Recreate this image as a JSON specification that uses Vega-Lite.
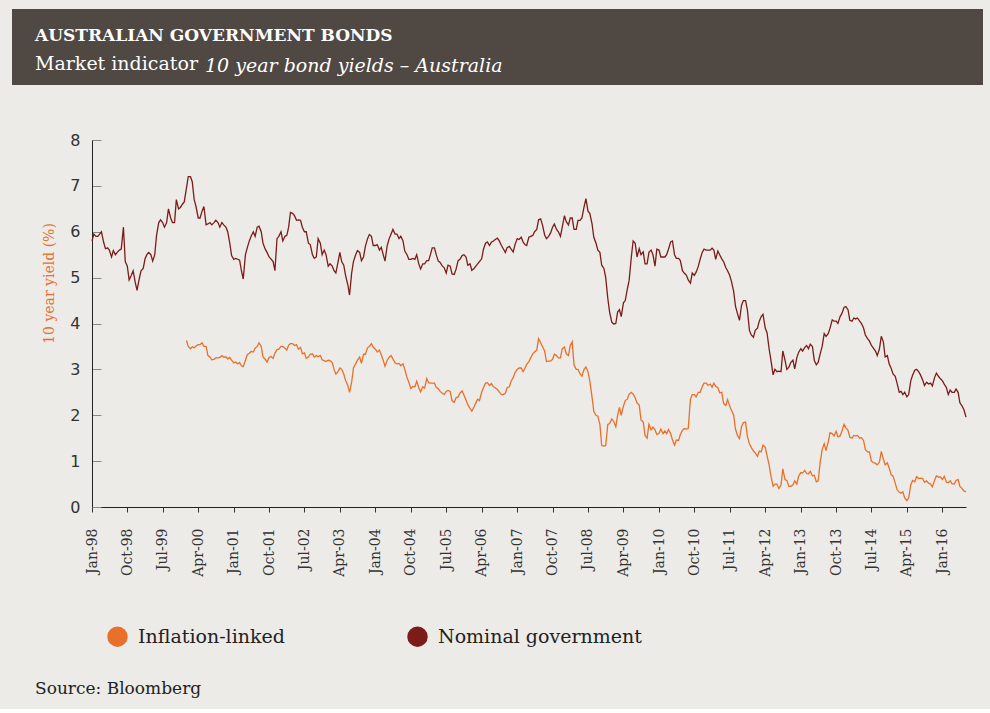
{
  "$schema": "https://vega.github.io/schema/vega-lite/v6.json",
  "background": "#ecebe8",
  "padding": {"left": 12, "top": 9, "right": 7, "bottom": 12},
  "spacing": 55,
  "bounds": "flush",
  "title": {
    "text": "Source: Bloomberg",
    "orient": "bottom",
    "anchor": "start",
    "frame": "bounds",
    "font": "DejaVu Serif",
    "fontSize": 17,
    "fontWeight": "normal",
    "color": "#222222",
    "dx": 23,
    "offset": 34
  },
  "config": {
    "view": {"stroke": null},
    "axis": {"grid": false},
    "font": "DejaVu Serif"
  },
  "vconcat": [
    {
      "width": 971,
      "height": 76,
      "view": {"fill": "#4f4843", "stroke": null},
      "title": {
        "text": "AUSTRALIAN GOVERNMENT BONDS",
        "subtitle": "Market indicator",
        "anchor": "start",
        "frame": "group",
        "dx": 23,
        "offset": -66,
        "font": "DejaVu Serif",
        "fontSize": 17,
        "fontWeight": "bold",
        "color": "#ffffff",
        "subtitleFont": "DejaVu Serif",
        "subtitleFontSize": 19,
        "subtitleColor": "#ffffff",
        "subtitlePadding": 10
      },
      "data": {"values": []},
      "mark": "rect",
      "encoding": {}
    },
    {
      "spacing": 0,
      "bounds": "flush",
      "hconcat": [
        {
          "width": 80,
          "height": 367,
          "data": {"values": []},
          "mark": "rect",
          "encoding": {}
        },
        {
          "width": 874,
          "height": 367,
          "title": {
            "text": "10 year bond yields – Australia",
            "anchor": "start",
            "frame": "group",
            "font": "DejaVu Serif",
            "fontStyle": "italic",
            "fontWeight": "normal",
            "fontSize": 19,
            "color": "#ffffff",
            "dx": 113,
            "offset": 56
          },
          "data": {
            "values": [
              {"date": "1998-01-01", "Nominal government": 5.8},
              {"date": "1998-01-15", "Nominal government": 5.95},
              {"date": "1998-02-01", "Nominal government": 5.9},
              {"date": "1998-02-15", "Nominal government": 5.9},
              {"date": "1998-03-01", "Nominal government": 5.95},
              {"date": "1998-03-15", "Nominal government": 6.0},
              {"date": "1998-04-01", "Nominal government": 5.77},
              {"date": "1998-04-15", "Nominal government": 5.63},
              {"date": "1998-05-01", "Nominal government": 5.65},
              {"date": "1998-05-15", "Nominal government": 5.6},
              {"date": "1998-06-01", "Nominal government": 5.45},
              {"date": "1998-06-15", "Nominal government": 5.59},
              {"date": "1998-07-01", "Nominal government": 5.5},
              {"date": "1998-07-15", "Nominal government": 5.55},
              {"date": "1998-08-01", "Nominal government": 5.6},
              {"date": "1998-08-15", "Nominal government": 5.62},
              {"date": "1998-09-01", "Nominal government": 6.1},
              {"date": "1998-09-15", "Nominal government": 5.35},
              {"date": "1998-10-01", "Nominal government": 5.25},
              {"date": "1998-10-15", "Nominal government": 4.95},
              {"date": "1998-11-01", "Nominal government": 5.05},
              {"date": "1998-11-15", "Nominal government": 5.15},
              {"date": "1998-12-01", "Nominal government": 4.9},
              {"date": "1998-12-15", "Nominal government": 4.72},
              {"date": "1999-01-01", "Nominal government": 4.97},
              {"date": "1999-01-15", "Nominal government": 5.15},
              {"date": "1999-02-01", "Nominal government": 5.2},
              {"date": "1999-02-15", "Nominal government": 5.41},
              {"date": "1999-03-01", "Nominal government": 5.5},
              {"date": "1999-03-15", "Nominal government": 5.55},
              {"date": "1999-04-01", "Nominal government": 5.5},
              {"date": "1999-04-15", "Nominal government": 5.36},
              {"date": "1999-05-01", "Nominal government": 5.5},
              {"date": "1999-05-15", "Nominal government": 5.92},
              {"date": "1999-06-01", "Nominal government": 6.2},
              {"date": "1999-06-15", "Nominal government": 6.26},
              {"date": "1999-07-01", "Nominal government": 6.2},
              {"date": "1999-07-15", "Nominal government": 6.1},
              {"date": "1999-08-01", "Nominal government": 6.2},
              {"date": "1999-08-15", "Nominal government": 6.5},
              {"date": "1999-09-01", "Nominal government": 6.3},
              {"date": "1999-09-15", "Nominal government": 6.2},
              {"date": "1999-10-01", "Nominal government": 6.2},
              {"date": "1999-10-15", "Nominal government": 6.7},
              {"date": "1999-11-01", "Nominal government": 6.5},
              {"date": "1999-11-15", "Nominal government": 6.53},
              {"date": "1999-12-01", "Nominal government": 6.6},
              {"date": "1999-12-15", "Nominal government": 6.65},
              {"date": "2000-01-01", "Nominal government": 6.95, "Inflation-linked": 3.63},
              {"date": "2000-01-15", "Nominal government": 7.2, "Inflation-linked": 3.5},
              {"date": "2000-02-01", "Nominal government": 7.2, "Inflation-linked": 3.45},
              {"date": "2000-02-15", "Nominal government": 7.09, "Inflation-linked": 3.49},
              {"date": "2000-03-01", "Nominal government": 6.7, "Inflation-linked": 3.47},
              {"date": "2000-03-15", "Nominal government": 6.55, "Inflation-linked": 3.51},
              {"date": "2000-04-01", "Nominal government": 6.3, "Inflation-linked": 3.54},
              {"date": "2000-04-15", "Nominal government": 6.3, "Inflation-linked": 3.54},
              {"date": "2000-05-01", "Nominal government": 6.45, "Inflation-linked": 3.58},
              {"date": "2000-05-15", "Nominal government": 6.55, "Inflation-linked": 3.5},
              {"date": "2000-06-01", "Nominal government": 6.15, "Inflation-linked": 3.5},
              {"date": "2000-06-15", "Nominal government": 6.17, "Inflation-linked": 3.3},
              {"date": "2000-07-01", "Nominal government": 6.2, "Inflation-linked": 3.27},
              {"date": "2000-07-15", "Nominal government": 6.15, "Inflation-linked": 3.21},
              {"date": "2000-08-01", "Nominal government": 6.2, "Inflation-linked": 3.22},
              {"date": "2000-08-15", "Nominal government": 6.25, "Inflation-linked": 3.25},
              {"date": "2000-09-01", "Nominal government": 6.2, "Inflation-linked": 3.25},
              {"date": "2000-09-15", "Nominal government": 6.1, "Inflation-linked": 3.26},
              {"date": "2000-10-01", "Nominal government": 6.2, "Inflation-linked": 3.3},
              {"date": "2000-10-15", "Nominal government": 6.15, "Inflation-linked": 3.27},
              {"date": "2000-11-01", "Nominal government": 6.1, "Inflation-linked": 3.27},
              {"date": "2000-11-15", "Nominal government": 6.0, "Inflation-linked": 3.23},
              {"date": "2000-12-01", "Nominal government": 5.75, "Inflation-linked": 3.26},
              {"date": "2000-12-15", "Nominal government": 5.48, "Inflation-linked": 3.2},
              {"date": "2001-01-01", "Nominal government": 5.4, "Inflation-linked": 3.14},
              {"date": "2001-01-15", "Nominal government": 5.42, "Inflation-linked": 3.16},
              {"date": "2001-02-01", "Nominal government": 5.4, "Inflation-linked": 3.12},
              {"date": "2001-02-15", "Nominal government": 5.38, "Inflation-linked": 3.15},
              {"date": "2001-03-01", "Nominal government": 5.15, "Inflation-linked": 3.08},
              {"date": "2001-03-15", "Nominal government": 4.97, "Inflation-linked": 3.06},
              {"date": "2001-04-01", "Nominal government": 5.5, "Inflation-linked": 3.2},
              {"date": "2001-04-15", "Nominal government": 5.65, "Inflation-linked": 3.32},
              {"date": "2001-05-01", "Nominal government": 5.8, "Inflation-linked": 3.35},
              {"date": "2001-05-15", "Nominal government": 5.9, "Inflation-linked": 3.39},
              {"date": "2001-06-01", "Nominal government": 6.0, "Inflation-linked": 3.38},
              {"date": "2001-06-15", "Nominal government": 5.9, "Inflation-linked": 3.46},
              {"date": "2001-07-01", "Nominal government": 6.1, "Inflation-linked": 3.5},
              {"date": "2001-07-15", "Nominal government": 6.12, "Inflation-linked": 3.58},
              {"date": "2001-08-01", "Nominal government": 6.0, "Inflation-linked": 3.5},
              {"date": "2001-08-15", "Nominal government": 5.75, "Inflation-linked": 3.27},
              {"date": "2001-09-01", "Nominal government": 5.62, "Inflation-linked": 3.22},
              {"date": "2001-09-15", "Nominal government": 5.55, "Inflation-linked": 3.16},
              {"date": "2001-10-01", "Nominal government": 5.45, "Inflation-linked": 3.26},
              {"date": "2001-10-15", "Nominal government": 5.41, "Inflation-linked": 3.28},
              {"date": "2001-11-01", "Nominal government": 5.35, "Inflation-linked": 3.24},
              {"date": "2001-11-15", "Nominal government": 5.15, "Inflation-linked": 3.35},
              {"date": "2001-12-01", "Nominal government": 5.85, "Inflation-linked": 3.43},
              {"date": "2001-12-15", "Nominal government": 5.9, "Inflation-linked": 3.44},
              {"date": "2002-01-01", "Nominal government": 6.0, "Inflation-linked": 3.5},
              {"date": "2002-01-15", "Nominal government": 5.8, "Inflation-linked": 3.5},
              {"date": "2002-02-01", "Nominal government": 5.9, "Inflation-linked": 3.46},
              {"date": "2002-02-15", "Nominal government": 5.92, "Inflation-linked": 3.42},
              {"date": "2002-03-01", "Nominal government": 6.1, "Inflation-linked": 3.53},
              {"date": "2002-03-15", "Nominal government": 6.42, "Inflation-linked": 3.56},
              {"date": "2002-04-01", "Nominal government": 6.4, "Inflation-linked": 3.56},
              {"date": "2002-04-15", "Nominal government": 6.35, "Inflation-linked": 3.52},
              {"date": "2002-05-01", "Nominal government": 6.25, "Inflation-linked": 3.54},
              {"date": "2002-05-15", "Nominal government": 6.26, "Inflation-linked": 3.44},
              {"date": "2002-06-01", "Nominal government": 6.25, "Inflation-linked": 3.48},
              {"date": "2002-06-15", "Nominal government": 6.1, "Inflation-linked": 3.34},
              {"date": "2002-07-01", "Nominal government": 6.0, "Inflation-linked": 3.36},
              {"date": "2002-07-15", "Nominal government": 6.0, "Inflation-linked": 3.24},
              {"date": "2002-08-01", "Nominal government": 5.75, "Inflation-linked": 3.27},
              {"date": "2002-08-15", "Nominal government": 5.72, "Inflation-linked": 3.33},
              {"date": "2002-09-01", "Nominal government": 5.5, "Inflation-linked": 3.34},
              {"date": "2002-09-15", "Nominal government": 5.42, "Inflation-linked": 3.27},
              {"date": "2002-10-01", "Nominal government": 5.45, "Inflation-linked": 3.3},
              {"date": "2002-10-15", "Nominal government": 5.85, "Inflation-linked": 3.28},
              {"date": "2002-11-01", "Nominal government": 5.75, "Inflation-linked": 3.3},
              {"date": "2002-11-15", "Nominal government": 5.5, "Inflation-linked": 3.21},
              {"date": "2002-12-01", "Nominal government": 5.6, "Inflation-linked": 3.19},
              {"date": "2002-12-15", "Nominal government": 5.5, "Inflation-linked": 3.17},
              {"date": "2003-01-01", "Nominal government": 5.25, "Inflation-linked": 3.2},
              {"date": "2003-01-15", "Nominal government": 5.3, "Inflation-linked": 3.19},
              {"date": "2003-02-01", "Nominal government": 5.25, "Inflation-linked": 3.15},
              {"date": "2003-02-15", "Nominal government": 5.15, "Inflation-linked": 3.0},
              {"date": "2003-03-01", "Nominal government": 5.1, "Inflation-linked": 2.9},
              {"date": "2003-03-15", "Nominal government": 5.3, "Inflation-linked": 2.94},
              {"date": "2003-04-01", "Nominal government": 5.55, "Inflation-linked": 3.03},
              {"date": "2003-04-15", "Nominal government": 5.35, "Inflation-linked": 3.0},
              {"date": "2003-05-01", "Nominal government": 5.27, "Inflation-linked": 2.9},
              {"date": "2003-05-15", "Nominal government": 5.05, "Inflation-linked": 2.76},
              {"date": "2003-06-01", "Nominal government": 4.85, "Inflation-linked": 2.65},
              {"date": "2003-06-15", "Nominal government": 4.62, "Inflation-linked": 2.5},
              {"date": "2003-07-01", "Nominal government": 5.1, "Inflation-linked": 2.72},
              {"date": "2003-07-15", "Nominal government": 5.35, "Inflation-linked": 3.03},
              {"date": "2003-08-01", "Nominal government": 5.5, "Inflation-linked": 3.12},
              {"date": "2003-08-15", "Nominal government": 5.59, "Inflation-linked": 3.2},
              {"date": "2003-09-01", "Nominal government": 5.55, "Inflation-linked": 3.27},
              {"date": "2003-09-15", "Nominal government": 5.37, "Inflation-linked": 3.13},
              {"date": "2003-10-01", "Nominal government": 5.45, "Inflation-linked": 3.33},
              {"date": "2003-10-15", "Nominal government": 5.68, "Inflation-linked": 3.33},
              {"date": "2003-11-01", "Nominal government": 5.85, "Inflation-linked": 3.47},
              {"date": "2003-11-15", "Nominal government": 5.94, "Inflation-linked": 3.5},
              {"date": "2003-12-01", "Nominal government": 5.9, "Inflation-linked": 3.56},
              {"date": "2003-12-15", "Nominal government": 5.7, "Inflation-linked": 3.48},
              {"date": "2004-01-01", "Nominal government": 5.7, "Inflation-linked": 3.44},
              {"date": "2004-01-15", "Nominal government": 5.72, "Inflation-linked": 3.38},
              {"date": "2004-02-01", "Nominal government": 5.6, "Inflation-linked": 3.42},
              {"date": "2004-02-15", "Nominal government": 5.66, "Inflation-linked": 3.32},
              {"date": "2004-03-01", "Nominal government": 5.5, "Inflation-linked": 3.2},
              {"date": "2004-03-15", "Nominal government": 5.36, "Inflation-linked": 3.07},
              {"date": "2004-04-01", "Nominal government": 5.7, "Inflation-linked": 3.2},
              {"date": "2004-04-15", "Nominal government": 5.84, "Inflation-linked": 3.26},
              {"date": "2004-05-01", "Nominal government": 5.95, "Inflation-linked": 3.3},
              {"date": "2004-05-15", "Nominal government": 6.05, "Inflation-linked": 3.23},
              {"date": "2004-06-01", "Nominal government": 5.95, "Inflation-linked": 3.14},
              {"date": "2004-06-15", "Nominal government": 5.95, "Inflation-linked": 3.12},
              {"date": "2004-07-01", "Nominal government": 5.85, "Inflation-linked": 3.13},
              {"date": "2004-07-15", "Nominal government": 5.9, "Inflation-linked": 3.08},
              {"date": "2004-08-01", "Nominal government": 5.8, "Inflation-linked": 3.12},
              {"date": "2004-08-15", "Nominal government": 5.58, "Inflation-linked": 3.0},
              {"date": "2004-09-01", "Nominal government": 5.5, "Inflation-linked": 2.82},
              {"date": "2004-09-15", "Nominal government": 5.4, "Inflation-linked": 2.72},
              {"date": "2004-10-01", "Nominal government": 5.4, "Inflation-linked": 2.58},
              {"date": "2004-10-15", "Nominal government": 5.42, "Inflation-linked": 2.63},
              {"date": "2004-11-01", "Nominal government": 5.4, "Inflation-linked": 2.62},
              {"date": "2004-11-15", "Nominal government": 5.5, "Inflation-linked": 2.74},
              {"date": "2004-12-01", "Nominal government": 5.3, "Inflation-linked": 2.6},
              {"date": "2004-12-15", "Nominal government": 5.19, "Inflation-linked": 2.51},
              {"date": "2005-01-01", "Nominal government": 5.3, "Inflation-linked": 2.62},
              {"date": "2005-01-15", "Nominal government": 5.3, "Inflation-linked": 2.59},
              {"date": "2005-02-01", "Nominal government": 5.37, "Inflation-linked": 2.8},
              {"date": "2005-02-15", "Nominal government": 5.37, "Inflation-linked": 2.71},
              {"date": "2005-03-01", "Nominal government": 5.5, "Inflation-linked": 2.7},
              {"date": "2005-03-15", "Nominal government": 5.65, "Inflation-linked": 2.7},
              {"date": "2005-04-01", "Nominal government": 5.65, "Inflation-linked": 2.7},
              {"date": "2005-04-15", "Nominal government": 5.5, "Inflation-linked": 2.61},
              {"date": "2005-05-01", "Nominal government": 5.36, "Inflation-linked": 2.58},
              {"date": "2005-05-15", "Nominal government": 5.33, "Inflation-linked": 2.52},
              {"date": "2005-06-01", "Nominal government": 5.25, "Inflation-linked": 2.48},
              {"date": "2005-06-15", "Nominal government": 5.22, "Inflation-linked": 2.45},
              {"date": "2005-07-01", "Nominal government": 5.1, "Inflation-linked": 2.52},
              {"date": "2005-07-15", "Nominal government": 5.27, "Inflation-linked": 2.54},
              {"date": "2005-08-01", "Nominal government": 5.25, "Inflation-linked": 2.52},
              {"date": "2005-08-15", "Nominal government": 5.08, "Inflation-linked": 2.32},
              {"date": "2005-09-01", "Nominal government": 5.07, "Inflation-linked": 2.28},
              {"date": "2005-09-15", "Nominal government": 5.18, "Inflation-linked": 2.38},
              {"date": "2005-10-01", "Nominal government": 5.37, "Inflation-linked": 2.4},
              {"date": "2005-10-15", "Nominal government": 5.4, "Inflation-linked": 2.48},
              {"date": "2005-11-01", "Nominal government": 5.48, "Inflation-linked": 2.53},
              {"date": "2005-11-15", "Nominal government": 5.5, "Inflation-linked": 2.44},
              {"date": "2005-12-01", "Nominal government": 5.45, "Inflation-linked": 2.33},
              {"date": "2005-12-15", "Nominal government": 5.27, "Inflation-linked": 2.23},
              {"date": "2006-01-01", "Nominal government": 5.3, "Inflation-linked": 2.15},
              {"date": "2006-01-15", "Nominal government": 5.16, "Inflation-linked": 2.09},
              {"date": "2006-02-01", "Nominal government": 5.2, "Inflation-linked": 2.18},
              {"date": "2006-02-15", "Nominal government": 5.25, "Inflation-linked": 2.27},
              {"date": "2006-03-01", "Nominal government": 5.3, "Inflation-linked": 2.35},
              {"date": "2006-03-15", "Nominal government": 5.35, "Inflation-linked": 2.32},
              {"date": "2006-04-01", "Nominal government": 5.41, "Inflation-linked": 2.5},
              {"date": "2006-04-15", "Nominal government": 5.62, "Inflation-linked": 2.6},
              {"date": "2006-05-01", "Nominal government": 5.75, "Inflation-linked": 2.7},
              {"date": "2006-05-15", "Nominal government": 5.78, "Inflation-linked": 2.71},
              {"date": "2006-06-01", "Nominal government": 5.7, "Inflation-linked": 2.65},
              {"date": "2006-06-15", "Nominal government": 5.77, "Inflation-linked": 2.69},
              {"date": "2006-07-01", "Nominal government": 5.8, "Inflation-linked": 2.62},
              {"date": "2006-07-15", "Nominal government": 5.83, "Inflation-linked": 2.6},
              {"date": "2006-08-01", "Nominal government": 5.86, "Inflation-linked": 2.56},
              {"date": "2006-08-15", "Nominal government": 5.8, "Inflation-linked": 2.51},
              {"date": "2006-09-01", "Nominal government": 5.7, "Inflation-linked": 2.45},
              {"date": "2006-09-15", "Nominal government": 5.63, "Inflation-linked": 2.45},
              {"date": "2006-10-01", "Nominal government": 5.55, "Inflation-linked": 2.48},
              {"date": "2006-10-15", "Nominal government": 5.65, "Inflation-linked": 2.6},
              {"date": "2006-11-01", "Nominal government": 5.68, "Inflation-linked": 2.62},
              {"date": "2006-11-15", "Nominal government": 5.62, "Inflation-linked": 2.74},
              {"date": "2006-12-01", "Nominal government": 5.56, "Inflation-linked": 2.82},
              {"date": "2006-12-15", "Nominal government": 5.72, "Inflation-linked": 2.93},
              {"date": "2007-01-01", "Nominal government": 5.85, "Inflation-linked": 3.0},
              {"date": "2007-01-15", "Nominal government": 5.83, "Inflation-linked": 3.03},
              {"date": "2007-02-01", "Nominal government": 5.88, "Inflation-linked": 3.03},
              {"date": "2007-02-15", "Nominal government": 5.78, "Inflation-linked": 2.95},
              {"date": "2007-03-01", "Nominal government": 5.72, "Inflation-linked": 3.02},
              {"date": "2007-03-15", "Nominal government": 5.7, "Inflation-linked": 3.11},
              {"date": "2007-04-01", "Nominal government": 5.88, "Inflation-linked": 3.17},
              {"date": "2007-04-15", "Nominal government": 5.9, "Inflation-linked": 3.25},
              {"date": "2007-05-01", "Nominal government": 5.92, "Inflation-linked": 3.34},
              {"date": "2007-05-15", "Nominal government": 6.0, "Inflation-linked": 3.38},
              {"date": "2007-06-01", "Nominal government": 6.05, "Inflation-linked": 3.42},
              {"date": "2007-06-15", "Nominal government": 6.26, "Inflation-linked": 3.67},
              {"date": "2007-07-01", "Nominal government": 6.28, "Inflation-linked": 3.58},
              {"date": "2007-07-15", "Nominal government": 6.15, "Inflation-linked": 3.5},
              {"date": "2007-08-01", "Nominal government": 5.93, "Inflation-linked": 3.4},
              {"date": "2007-08-15", "Nominal government": 5.85, "Inflation-linked": 3.17},
              {"date": "2007-09-01", "Nominal government": 5.9, "Inflation-linked": 3.18},
              {"date": "2007-09-15", "Nominal government": 5.97, "Inflation-linked": 3.18},
              {"date": "2007-10-01", "Nominal government": 6.1, "Inflation-linked": 3.22},
              {"date": "2007-10-15", "Nominal government": 6.17, "Inflation-linked": 3.33},
              {"date": "2007-11-01", "Nominal government": 6.05, "Inflation-linked": 3.3},
              {"date": "2007-11-15", "Nominal government": 6.0, "Inflation-linked": 3.25},
              {"date": "2007-12-01", "Nominal government": 5.9, "Inflation-linked": 3.25},
              {"date": "2007-12-15", "Nominal government": 6.1, "Inflation-linked": 3.45},
              {"date": "2008-01-01", "Nominal government": 6.35, "Inflation-linked": 3.49},
              {"date": "2008-01-15", "Nominal government": 6.22, "Inflation-linked": 3.34},
              {"date": "2008-02-01", "Nominal government": 6.15, "Inflation-linked": 3.3},
              {"date": "2008-02-15", "Nominal government": 6.3, "Inflation-linked": 3.52},
              {"date": "2008-03-01", "Nominal government": 6.3, "Inflation-linked": 3.6},
              {"date": "2008-03-15", "Nominal government": 6.05, "Inflation-linked": 3.1},
              {"date": "2008-04-01", "Nominal government": 6.05, "Inflation-linked": 3.0},
              {"date": "2008-04-15", "Nominal government": 6.25, "Inflation-linked": 3.0},
              {"date": "2008-05-01", "Nominal government": 6.25, "Inflation-linked": 2.9},
              {"date": "2008-05-15", "Nominal government": 6.3, "Inflation-linked": 2.85},
              {"date": "2008-06-01", "Nominal government": 6.55, "Inflation-linked": 3.0},
              {"date": "2008-06-15", "Nominal government": 6.72, "Inflation-linked": 3.05},
              {"date": "2008-07-01", "Nominal government": 6.45, "Inflation-linked": 2.95},
              {"date": "2008-07-15", "Nominal government": 6.4, "Inflation-linked": 2.75},
              {"date": "2008-08-01", "Nominal government": 6.18, "Inflation-linked": 2.4},
              {"date": "2008-08-15", "Nominal government": 5.88, "Inflation-linked": 2.08},
              {"date": "2008-09-01", "Nominal government": 5.75, "Inflation-linked": 2.0},
              {"date": "2008-09-15", "Nominal government": 5.6, "Inflation-linked": 1.98},
              {"date": "2008-10-01", "Nominal government": 5.55, "Inflation-linked": 1.8},
              {"date": "2008-10-15", "Nominal government": 5.27, "Inflation-linked": 1.34},
              {"date": "2008-11-01", "Nominal government": 5.2, "Inflation-linked": 1.33},
              {"date": "2008-11-15", "Nominal government": 5.0, "Inflation-linked": 1.34},
              {"date": "2008-12-01", "Nominal government": 4.55, "Inflation-linked": 1.8},
              {"date": "2008-12-15", "Nominal government": 4.25, "Inflation-linked": 1.82},
              {"date": "2009-01-01", "Nominal government": 4.03, "Inflation-linked": 1.92},
              {"date": "2009-01-15", "Nominal government": 3.99, "Inflation-linked": 1.87},
              {"date": "2009-02-01", "Nominal government": 4.0, "Inflation-linked": 1.75},
              {"date": "2009-02-15", "Nominal government": 4.25, "Inflation-linked": 2.0},
              {"date": "2009-03-01", "Nominal government": 4.3, "Inflation-linked": 2.17},
              {"date": "2009-03-15", "Nominal government": 4.15, "Inflation-linked": 2.0},
              {"date": "2009-04-01", "Nominal government": 4.45, "Inflation-linked": 2.2},
              {"date": "2009-04-15", "Nominal government": 4.5, "Inflation-linked": 2.32},
              {"date": "2009-05-01", "Nominal government": 4.75, "Inflation-linked": 2.35},
              {"date": "2009-05-15", "Nominal government": 4.94, "Inflation-linked": 2.46},
              {"date": "2009-06-01", "Nominal government": 5.45, "Inflation-linked": 2.5},
              {"date": "2009-06-15", "Nominal government": 5.8, "Inflation-linked": 2.46},
              {"date": "2009-07-01", "Nominal government": 5.75, "Inflation-linked": 2.38},
              {"date": "2009-07-15", "Nominal government": 5.45, "Inflation-linked": 2.27},
              {"date": "2009-08-01", "Nominal government": 5.63, "Inflation-linked": 2.22},
              {"date": "2009-08-15", "Nominal government": 5.5, "Inflation-linked": 1.9},
              {"date": "2009-09-01", "Nominal government": 5.56, "Inflation-linked": 1.85},
              {"date": "2009-09-15", "Nominal government": 5.3, "Inflation-linked": 1.56},
              {"date": "2009-10-01", "Nominal government": 5.3, "Inflation-linked": 1.5},
              {"date": "2009-10-15", "Nominal government": 5.55, "Inflation-linked": 1.8},
              {"date": "2009-11-01", "Nominal government": 5.6, "Inflation-linked": 1.68},
              {"date": "2009-11-15", "Nominal government": 5.5, "Inflation-linked": 1.74},
              {"date": "2009-12-01", "Nominal government": 5.25, "Inflation-linked": 1.68},
              {"date": "2009-12-15", "Nominal government": 5.62, "Inflation-linked": 1.58},
              {"date": "2010-01-01", "Nominal government": 5.6, "Inflation-linked": 1.6},
              {"date": "2010-01-15", "Nominal government": 5.45, "Inflation-linked": 1.7},
              {"date": "2010-02-01", "Nominal government": 5.45, "Inflation-linked": 1.6},
              {"date": "2010-02-15", "Nominal government": 5.45, "Inflation-linked": 1.66},
              {"date": "2010-03-01", "Nominal government": 5.5, "Inflation-linked": 1.6},
              {"date": "2010-03-15", "Nominal government": 5.62, "Inflation-linked": 1.69},
              {"date": "2010-04-01", "Nominal government": 5.78, "Inflation-linked": 1.6},
              {"date": "2010-04-15", "Nominal government": 5.8, "Inflation-linked": 1.46},
              {"date": "2010-05-01", "Nominal government": 5.5, "Inflation-linked": 1.35},
              {"date": "2010-05-15", "Nominal government": 5.42, "Inflation-linked": 1.46},
              {"date": "2010-06-01", "Nominal government": 5.42, "Inflation-linked": 1.45},
              {"date": "2010-06-15", "Nominal government": 5.37, "Inflation-linked": 1.58},
              {"date": "2010-07-01", "Nominal government": 5.15, "Inflation-linked": 1.67},
              {"date": "2010-07-15", "Nominal government": 5.1, "Inflation-linked": 1.71},
              {"date": "2010-08-01", "Nominal government": 5.05, "Inflation-linked": 1.7},
              {"date": "2010-08-15", "Nominal government": 4.95, "Inflation-linked": 1.71},
              {"date": "2010-09-01", "Nominal government": 4.88, "Inflation-linked": 2.35},
              {"date": "2010-09-15", "Nominal government": 5.1, "Inflation-linked": 2.45},
              {"date": "2010-10-01", "Nominal government": 5.05, "Inflation-linked": 2.45},
              {"date": "2010-10-15", "Nominal government": 5.12, "Inflation-linked": 2.4},
              {"date": "2010-11-01", "Nominal government": 5.25, "Inflation-linked": 2.5},
              {"date": "2010-11-15", "Nominal government": 5.4, "Inflation-linked": 2.5},
              {"date": "2010-12-01", "Nominal government": 5.55, "Inflation-linked": 2.62},
              {"date": "2010-12-15", "Nominal government": 5.62, "Inflation-linked": 2.7},
              {"date": "2011-01-01", "Nominal government": 5.6, "Inflation-linked": 2.7},
              {"date": "2011-01-15", "Nominal government": 5.6, "Inflation-linked": 2.65},
              {"date": "2011-02-01", "Nominal government": 5.6, "Inflation-linked": 2.68},
              {"date": "2011-02-15", "Nominal government": 5.64, "Inflation-linked": 2.61},
              {"date": "2011-03-01", "Nominal government": 5.6, "Inflation-linked": 2.7},
              {"date": "2011-03-15", "Nominal government": 5.4, "Inflation-linked": 2.63},
              {"date": "2011-04-01", "Nominal government": 5.58, "Inflation-linked": 2.6},
              {"date": "2011-04-15", "Nominal government": 5.5, "Inflation-linked": 2.49},
              {"date": "2011-05-01", "Nominal government": 5.41, "Inflation-linked": 2.5},
              {"date": "2011-05-15", "Nominal government": 5.35, "Inflation-linked": 2.26},
              {"date": "2011-06-01", "Nominal government": 5.22, "Inflation-linked": 2.21},
              {"date": "2011-06-15", "Nominal government": 5.15, "Inflation-linked": 2.34},
              {"date": "2011-07-01", "Nominal government": 5.05, "Inflation-linked": 2.2},
              {"date": "2011-07-15", "Nominal government": 4.92, "Inflation-linked": 2.11},
              {"date": "2011-08-01", "Nominal government": 4.7, "Inflation-linked": 2.0},
              {"date": "2011-08-15", "Nominal government": 4.38, "Inflation-linked": 1.7},
              {"date": "2011-09-01", "Nominal government": 4.2, "Inflation-linked": 1.55},
              {"date": "2011-09-15", "Nominal government": 4.07, "Inflation-linked": 1.49},
              {"date": "2011-10-01", "Nominal government": 4.4, "Inflation-linked": 1.75},
              {"date": "2011-10-15", "Nominal government": 4.5, "Inflation-linked": 1.84},
              {"date": "2011-11-01", "Nominal government": 4.5, "Inflation-linked": 1.85},
              {"date": "2011-11-15", "Nominal government": 4.3, "Inflation-linked": 1.54},
              {"date": "2011-12-01", "Nominal government": 3.85, "Inflation-linked": 1.38},
              {"date": "2011-12-15", "Nominal government": 3.75, "Inflation-linked": 1.3},
              {"date": "2012-01-01", "Nominal government": 3.7, "Inflation-linked": 1.22},
              {"date": "2012-01-15", "Nominal government": 3.85, "Inflation-linked": 1.18},
              {"date": "2012-02-01", "Nominal government": 3.9, "Inflation-linked": 1.1},
              {"date": "2012-02-15", "Nominal government": 4.05, "Inflation-linked": 1.22},
              {"date": "2012-03-01", "Nominal government": 4.15, "Inflation-linked": 1.2},
              {"date": "2012-03-15", "Nominal government": 4.2, "Inflation-linked": 1.35},
              {"date": "2012-04-01", "Nominal government": 3.9, "Inflation-linked": 1.3},
              {"date": "2012-04-15", "Nominal government": 3.8, "Inflation-linked": 1.12},
              {"date": "2012-05-01", "Nominal government": 3.45, "Inflation-linked": 0.92},
              {"date": "2012-05-15", "Nominal government": 3.2, "Inflation-linked": 0.68},
              {"date": "2012-06-01", "Nominal government": 2.88, "Inflation-linked": 0.45},
              {"date": "2012-06-15", "Nominal government": 3.0, "Inflation-linked": 0.5},
              {"date": "2012-07-01", "Nominal government": 2.95, "Inflation-linked": 0.5},
              {"date": "2012-07-15", "Nominal government": 2.96, "Inflation-linked": 0.4},
              {"date": "2012-08-01", "Nominal government": 2.95, "Inflation-linked": 0.48},
              {"date": "2012-08-15", "Nominal government": 3.4, "Inflation-linked": 0.83},
              {"date": "2012-09-01", "Nominal government": 3.2, "Inflation-linked": 0.6},
              {"date": "2012-09-15", "Nominal government": 3.0, "Inflation-linked": 0.58},
              {"date": "2012-10-01", "Nominal government": 3.05, "Inflation-linked": 0.45},
              {"date": "2012-10-15", "Nominal government": 3.15, "Inflation-linked": 0.45},
              {"date": "2012-11-01", "Nominal government": 3.2, "Inflation-linked": 0.48},
              {"date": "2012-11-15", "Nominal government": 3.01, "Inflation-linked": 0.57},
              {"date": "2012-12-01", "Nominal government": 3.25, "Inflation-linked": 0.5},
              {"date": "2012-12-15", "Nominal government": 3.37, "Inflation-linked": 0.67},
              {"date": "2013-01-01", "Nominal government": 3.45, "Inflation-linked": 0.75},
              {"date": "2013-01-15", "Nominal government": 3.4, "Inflation-linked": 0.74},
              {"date": "2013-02-01", "Nominal government": 3.48, "Inflation-linked": 0.8},
              {"date": "2013-02-15", "Nominal government": 3.52, "Inflation-linked": 0.73},
              {"date": "2013-03-01", "Nominal government": 3.45, "Inflation-linked": 0.72},
              {"date": "2013-03-15", "Nominal government": 3.55, "Inflation-linked": 0.78},
              {"date": "2013-04-01", "Nominal government": 3.5, "Inflation-linked": 0.68},
              {"date": "2013-04-15", "Nominal government": 3.2, "Inflation-linked": 0.69},
              {"date": "2013-05-01", "Nominal government": 3.1, "Inflation-linked": 0.55},
              {"date": "2013-05-15", "Nominal government": 3.15, "Inflation-linked": 0.57},
              {"date": "2013-06-01", "Nominal government": 3.35, "Inflation-linked": 1.0},
              {"date": "2013-06-15", "Nominal government": 3.5, "Inflation-linked": 1.25},
              {"date": "2013-07-01", "Nominal government": 3.78, "Inflation-linked": 1.38},
              {"date": "2013-07-15", "Nominal government": 3.72, "Inflation-linked": 1.23},
              {"date": "2013-08-01", "Nominal government": 3.78, "Inflation-linked": 1.42},
              {"date": "2013-08-15", "Nominal government": 3.9, "Inflation-linked": 1.62},
              {"date": "2013-09-01", "Nominal government": 4.08, "Inflation-linked": 1.6},
              {"date": "2013-09-15", "Nominal government": 4.05, "Inflation-linked": 1.55},
              {"date": "2013-10-01", "Nominal government": 4.05, "Inflation-linked": 1.65},
              {"date": "2013-10-15", "Nominal government": 4.0, "Inflation-linked": 1.53},
              {"date": "2013-11-01", "Nominal government": 4.15, "Inflation-linked": 1.55},
              {"date": "2013-11-15", "Nominal government": 4.22, "Inflation-linked": 1.65},
              {"date": "2013-12-01", "Nominal government": 4.35, "Inflation-linked": 1.8},
              {"date": "2013-12-15", "Nominal government": 4.37, "Inflation-linked": 1.73},
              {"date": "2014-01-01", "Nominal government": 4.3, "Inflation-linked": 1.67},
              {"date": "2014-01-15", "Nominal government": 4.07, "Inflation-linked": 1.52},
              {"date": "2014-02-01", "Nominal government": 4.05, "Inflation-linked": 1.5},
              {"date": "2014-02-15", "Nominal government": 4.12, "Inflation-linked": 1.56},
              {"date": "2014-03-01", "Nominal government": 4.1, "Inflation-linked": 1.55},
              {"date": "2014-03-15", "Nominal government": 4.12, "Inflation-linked": 1.56},
              {"date": "2014-04-01", "Nominal government": 4.05, "Inflation-linked": 1.5},
              {"date": "2014-04-15", "Nominal government": 4.0, "Inflation-linked": 1.51},
              {"date": "2014-05-01", "Nominal government": 3.9, "Inflation-linked": 1.45},
              {"date": "2014-05-15", "Nominal government": 3.75, "Inflation-linked": 1.25},
              {"date": "2014-06-01", "Nominal government": 3.67, "Inflation-linked": 1.2},
              {"date": "2014-06-15", "Nominal government": 3.62, "Inflation-linked": 1.2},
              {"date": "2014-07-01", "Nominal government": 3.52, "Inflation-linked": 1.0},
              {"date": "2014-07-15", "Nominal government": 3.47, "Inflation-linked": 0.97},
              {"date": "2014-08-01", "Nominal government": 3.4, "Inflation-linked": 0.95},
              {"date": "2014-08-15", "Nominal government": 3.3, "Inflation-linked": 0.92},
              {"date": "2014-09-01", "Nominal government": 3.45, "Inflation-linked": 0.98},
              {"date": "2014-09-15", "Nominal government": 3.72, "Inflation-linked": 1.21},
              {"date": "2014-10-01", "Nominal government": 3.6, "Inflation-linked": 1.05},
              {"date": "2014-10-15", "Nominal government": 3.27, "Inflation-linked": 0.92},
              {"date": "2014-11-01", "Nominal government": 3.3, "Inflation-linked": 0.96},
              {"date": "2014-11-15", "Nominal government": 3.12, "Inflation-linked": 0.85},
              {"date": "2014-12-01", "Nominal government": 3.02, "Inflation-linked": 0.7},
              {"date": "2014-12-15", "Nominal government": 2.9, "Inflation-linked": 0.67},
              {"date": "2015-01-01", "Nominal government": 2.85, "Inflation-linked": 0.52},
              {"date": "2015-01-15", "Nominal government": 2.7, "Inflation-linked": 0.38},
              {"date": "2015-02-01", "Nominal government": 2.5, "Inflation-linked": 0.32},
              {"date": "2015-02-15", "Nominal government": 2.52, "Inflation-linked": 0.3},
              {"date": "2015-03-01", "Nominal government": 2.45, "Inflation-linked": 0.33},
              {"date": "2015-03-15", "Nominal government": 2.5, "Inflation-linked": 0.2},
              {"date": "2015-04-01", "Nominal government": 2.4, "Inflation-linked": 0.14},
              {"date": "2015-04-15", "Nominal government": 2.45, "Inflation-linked": 0.2},
              {"date": "2015-05-01", "Nominal government": 2.75, "Inflation-linked": 0.48},
              {"date": "2015-05-15", "Nominal government": 2.87, "Inflation-linked": 0.58},
              {"date": "2015-06-01", "Nominal government": 2.98, "Inflation-linked": 0.55},
              {"date": "2015-06-15", "Nominal government": 3.0, "Inflation-linked": 0.66},
              {"date": "2015-07-01", "Nominal government": 2.95, "Inflation-linked": 0.62},
              {"date": "2015-07-15", "Nominal government": 2.88, "Inflation-linked": 0.63},
              {"date": "2015-08-01", "Nominal government": 2.77, "Inflation-linked": 0.62},
              {"date": "2015-08-15", "Nominal government": 2.65, "Inflation-linked": 0.54},
              {"date": "2015-09-01", "Nominal government": 2.72, "Inflation-linked": 0.57},
              {"date": "2015-09-15", "Nominal government": 2.68, "Inflation-linked": 0.52},
              {"date": "2015-10-01", "Nominal government": 2.7, "Inflation-linked": 0.5},
              {"date": "2015-10-15", "Nominal government": 2.64, "Inflation-linked": 0.44},
              {"date": "2015-11-01", "Nominal government": 2.82, "Inflation-linked": 0.58},
              {"date": "2015-11-15", "Nominal government": 2.92, "Inflation-linked": 0.68},
              {"date": "2015-12-01", "Nominal government": 2.85, "Inflation-linked": 0.65},
              {"date": "2015-12-15", "Nominal government": 2.8, "Inflation-linked": 0.66},
              {"date": "2016-01-01", "Nominal government": 2.75, "Inflation-linked": 0.6},
              {"date": "2016-01-15", "Nominal government": 2.68, "Inflation-linked": 0.67},
              {"date": "2016-02-01", "Nominal government": 2.6, "Inflation-linked": 0.54},
              {"date": "2016-02-15", "Nominal government": 2.45, "Inflation-linked": 0.53},
              {"date": "2016-03-01", "Nominal government": 2.55, "Inflation-linked": 0.57},
              {"date": "2016-03-15", "Nominal government": 2.5, "Inflation-linked": 0.51},
              {"date": "2016-04-01", "Nominal government": 2.5, "Inflation-linked": 0.5},
              {"date": "2016-04-15", "Nominal government": 2.57, "Inflation-linked": 0.58},
              {"date": "2016-05-01", "Nominal government": 2.5, "Inflation-linked": 0.6},
              {"date": "2016-05-15", "Nominal government": 2.27, "Inflation-linked": 0.45},
              {"date": "2016-06-01", "Nominal government": 2.2, "Inflation-linked": 0.4},
              {"date": "2016-06-15", "Nominal government": 2.12, "Inflation-linked": 0.35},
              {"date": "2016-07-01", "Nominal government": 1.96, "Inflation-linked": 0.33}
            ]
          },
          "transform": [
            {"fold": ["Inflation-linked", "Nominal government"], "as": ["series", "yield"]},
            {"filter": "isValid(datum.yield)"}
          ],
          "mark": {"type": "line", "strokeWidth": 1.3},
          "encoding": {
            "x": {
              "field": "date",
              "type": "temporal",
              "scale": {
                "type": "utc",
                "domain": [
                  {"year": 1998, "month": 1, "date": 1, "utc": true},
                  {"year": 2016, "month": 7, "date": 1, "utc": true}
                ]
              },
              "axis": {
                "values": [
                  {"year": 1998, "month": 1, "date": 1, "utc": true},
                  {"year": 1998, "month": 10, "date": 1, "utc": true},
                  {"year": 1999, "month": 7, "date": 1, "utc": true},
                  {"year": 2000, "month": 4, "date": 1, "utc": true},
                  {"year": 2001, "month": 1, "date": 1, "utc": true},
                  {"year": 2001, "month": 10, "date": 1, "utc": true},
                  {"year": 2002, "month": 7, "date": 1, "utc": true},
                  {"year": 2003, "month": 4, "date": 1, "utc": true},
                  {"year": 2004, "month": 1, "date": 1, "utc": true},
                  {"year": 2004, "month": 10, "date": 1, "utc": true},
                  {"year": 2005, "month": 7, "date": 1, "utc": true},
                  {"year": 2006, "month": 4, "date": 1, "utc": true},
                  {"year": 2007, "month": 1, "date": 1, "utc": true},
                  {"year": 2007, "month": 10, "date": 1, "utc": true},
                  {"year": 2008, "month": 7, "date": 1, "utc": true},
                  {"year": 2009, "month": 4, "date": 1, "utc": true},
                  {"year": 2010, "month": 1, "date": 1, "utc": true},
                  {"year": 2010, "month": 10, "date": 1, "utc": true},
                  {"year": 2011, "month": 7, "date": 1, "utc": true},
                  {"year": 2012, "month": 4, "date": 1, "utc": true},
                  {"year": 2013, "month": 1, "date": 1, "utc": true},
                  {"year": 2013, "month": 10, "date": 1, "utc": true},
                  {"year": 2014, "month": 7, "date": 1, "utc": true},
                  {"year": 2015, "month": 4, "date": 1, "utc": true},
                  {"year": 2016, "month": 1, "date": 1, "utc": true}
                ],
                "format": "%b-%y",
                "labelAngle": -90,
                "labelFont": "DejaVu Serif",
                "labelFontSize": 14,
                "labelColor": "#333333",
                "labelPadding": 16,
                "labelOverlap": false,
                "labelFlush": false,
                "tickSize": 5,
                "tickColor": "#333333",
                "domainColor": "#222222",
                "title": null
              }
            },
            "y": {
              "field": "yield",
              "type": "quantitative",
              "scale": {"domain": [0, 8]},
              "axis": {
                "values": [0, 1, 2, 3, 4, 5, 6, 7, 8],
                "title": "10 year yield (%)",
                "titleFont": "DejaVu Serif",
                "titleFontSize": 14,
                "titleFontWeight": "normal",
                "titleColor": "#e8702a",
                "titleX": -43,
                "titleY": 143,
                "titleAngle": 270,
                "titleBaseline": "middle",
                "labelFont": "DejaVu Sans",
                "labelFontSize": 16,
                "labelColor": "#333333",
                "labelPadding": 21,
                "tickSize": -9,
                "tickColor": "#888888",
                "domainColor": "#222222"
              }
            },
            "color": {
              "field": "series",
              "type": "nominal",
              "scale": {
                "domain": ["Inflation-linked", "Nominal government"],
                "range": ["#e8702a", "#7b1c18"]
              },
              "legend": {
                "orient": "none",
                "legendX": 95,
                "legendY": 617,
                "direction": "horizontal",
                "title": null,
                "padding": 0,
                "symbolType": "circle",
                "symbolSize": 420,
                "symbolStrokeWidth": 0,
                "labelFont": "DejaVu Serif",
                "labelFontSize": 19,
                "labelColor": "#222222",
                "labelOffset": 10,
                "labelLimit": 400,
                "columnPadding": 122,
                "encode": {
                  "symbols": {
                    "update": {
                      "fill": {"scale": "color", "field": "value"},
                      "stroke": {"value": "transparent"}
                    }
                  }
                }
              }
            }
          }
        }
      ]
    }
  ]
}
